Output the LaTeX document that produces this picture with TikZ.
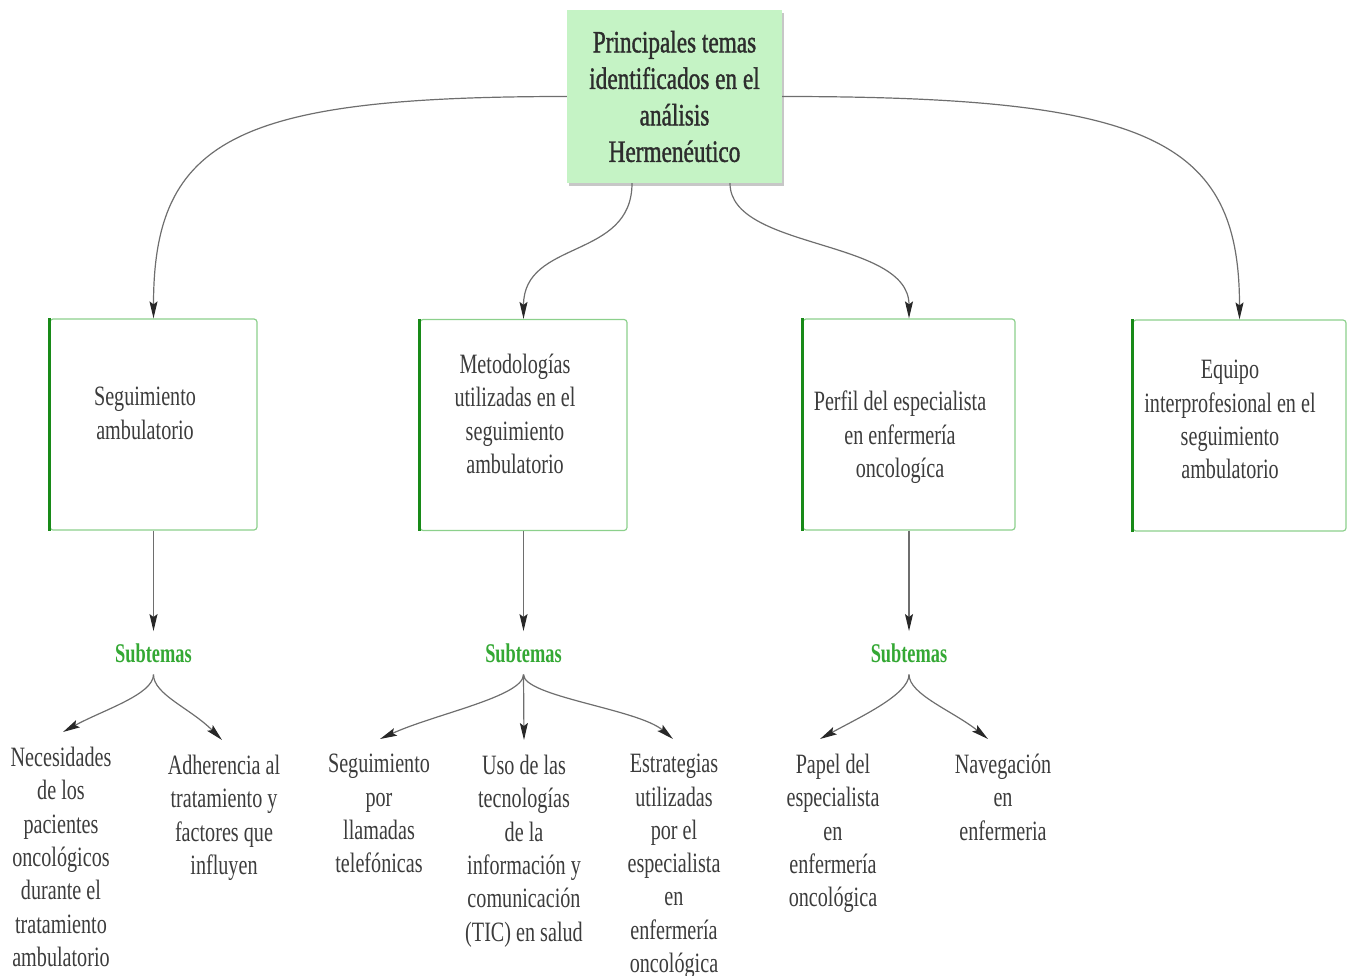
\documentclass[tikz,border=0pt]{standalone}
\usepackage{fontspec}
\setmainfont[FakeStretch=0.72]{Liberation Serif}
\newfontfamily\subfont[FakeStretch=0.68]{Liberation Serif}
\newfontfamily\topfont[FakeStretch=0.75,FakeBold=1.2]{Liberation Serif}
\usetikzlibrary{shadows,arrows.meta}
\definecolor{topfill}{RGB}{197,243,197}
\definecolor{bordlight}{RGB}{140,208,140}
\definecolor{borddark}{RGB}{24,138,24}
\definecolor{subgreen}{RGB}{52,168,52}
\definecolor{txtcol}{RGB}{60,60,60}
\definecolor{conncol}{RGB}{110,110,110}
\definecolor{tipcol}{RGB}{40,40,40}
\begin{document}
\begin{tikzpicture}[x=1pt,y=-1pt,
  topbox/.style={fill=topfill, minimum width=215pt, minimum height=173pt, inner sep=0pt, align=center,
    font=\topfont\fontsize{31}{36.5}\selectfont, text=txtcol!75!black,
    drop shadow={shadow xshift=2pt, shadow yshift=-3pt, fill=black, opacity=0.22}},
  themebox/.style={draw=bordlight, line width=1.2pt, rounded corners=3pt, fill=white,
    minimum width=207pt, minimum height=211pt, inner sep=0pt},
  leftbar/.style={draw=borddark, line width=3pt},
  boxtext/.style={anchor=north, align=center, inner sep=0pt, font=\fontsize{28}{33.3}\selectfont, text=txtcol},
  subt/.style={anchor=base, inner sep=12pt, font=\subfont\bfseries\fontsize{27}{30}\selectfont, text=subgreen},
  child/.style={anchor=north, align=center, inner xsep=0pt, inner ysep=15pt, font=\fontsize{28}{33.3}\selectfont, text=txtcol},
  connector/.style={draw=conncol, line width=1.2pt, -{Stealth[length=17pt,width=8pt,inset=3pt,color=tipcol]}}
]
\useasboundingbox (0,0) rectangle (1348,976);

% top
\node[topbox] (top) at (674.5,96.5) {Principales temas\\identificados en el\\análisis\\Hermenéutico};

% theme boxes
\node[themebox] (b1) at (153.5,424.5) {};
\node[themebox] (b2) at (523.5,425) {};
\node[themebox, minimum width=212pt] (b3) at (909,424.5) {};
\node[themebox, minimum width=213pt] (b4) at (1239.5,425.5) {};
\foreach \b in {b1,b2,b3,b4}{\draw[leftbar] (\b.north west) -- (\b.south west);}

\node[boxtext] (b1t) at (145,387) {Seguimiento\\ambulatorio};
\node[boxtext] (b2t) at (515,354) {Metodologías\\utilizadas en el\\seguimiento\\ambulatorio};
\node[boxtext] (b3t) at (900,391) {Perfil del especialista\\en enfermería\\oncologíca};
\node[boxtext] (b4t) at (1230,360) {Equipo\\interprofesional en el\\seguimiento\\ambulatorio};

% top connectors
\draw[connector] (top.west) .. controls +(-330,0) and +(0,-180) .. (b1.north);
\draw[connector] (top.east) .. controls +(368,0) and +(0,-180) .. (b4.north);
\draw[connector] ([xshift=-42.5pt]top.south) .. controls +(0,77) and +(0,-80) .. (b2.north);
\draw[connector] ([xshift=55.5pt]top.south) .. controls +(0,67) and +(0,-80) .. (b3.north);

% subtemas
\node[subt] (s1) at (153.5,662) {Subtemas};
\node[subt] (s2) at (523.5,662) {Subtemas};
\node[subt] (s3) at (909,662) {Subtemas};
\draw[connector] (b1.south) -- (s1.north);
\draw[connector] (b2.south) -- (s2.north);
\draw[connector] (b3.south) -- (s3.north);

% children
\node[child] (c11) at (61,732) {Necesidades\\de los\\pacientes\\oncológicos\\durante el\\tratamiento\\ambulatorio};
\node[child] (c12) at (224,740) {Adherencia al\\tratamiento y\\factores que\\influyen};
\node[child] (c21) at (379,739) {Seguimiento\\por\\llamadas\\telefónicas};
\node[child] (c22) at (524,740) {Uso de las\\tecnologías\\de la\\información y\\comunicación\\(TIC) en salud};
\node[child] (c23) at (674,739) {Estrategias\\utilizadas\\por el\\especialista\\en\\enfermería\\oncológica};
\node[child] (c31) at (833,739) {Papel del\\especialista\\en\\enfermería\\oncológica};
\node[child] (c32) at (1003,739) {Navegación\\en\\enfermeria};

\draw[connector] (s1.south) .. controls +(0,20) and +(40,-22) .. ([xshift=2pt]c11.north);
\draw[connector] (s1.south) .. controls +(0,20) and +(-32,-32) .. ([xshift=-2pt]c12.north);
\draw[connector] (s2.south) .. controls +(0,22) and +(55,-25) .. ([xshift=1pt]c21.north);
\draw[connector] (s2.south) -- (c22.north);
\draw[connector] (s2.south) .. controls +(0,22) and +(-35,-30) .. ([xshift=-1pt]c23.north);
\draw[connector] (s3.south) .. controls +(0,20) and +(40,-22) .. ([xshift=-13pt]c31.north);
\draw[connector] (s3.south) .. controls +(0,20) and +(-35,-28) .. ([xshift=-15pt]c32.north);
\end{tikzpicture}
\end{document}
